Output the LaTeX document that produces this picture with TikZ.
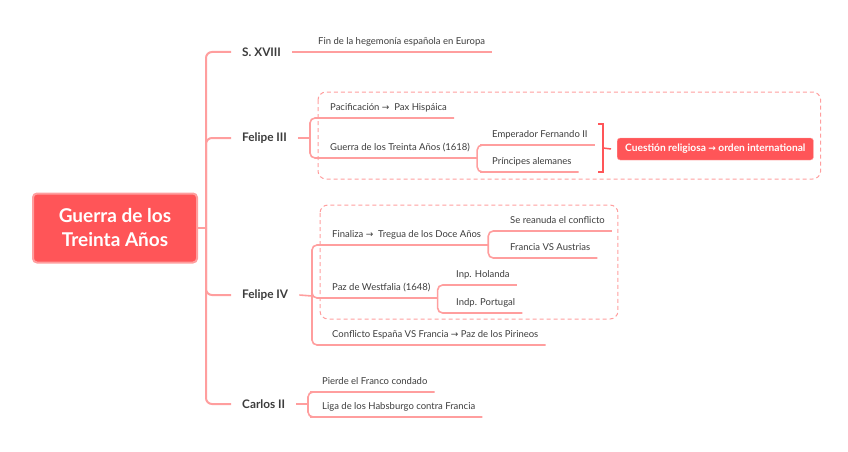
\documentclass[tikz,border=0pt]{standalone}
\usepackage{fontspec}
\setmainfont{Lato}
\newfontfamily\arrowfont{DejaVu Sans}
\usepackage{tikz}
\usetikzlibrary{calc}
\definecolor{mapred}{HTML}{FF5558}
\definecolor{mappink}{HTML}{FF9E9E}
\definecolor{maptext}{HTML}{3C3C3C}
\newcommand{\toarrow}{{\arrowfont\small →}}

\begin{document}
\begin{tikzpicture}[x=1pt, y=-1pt,
    root/.style={draw=mappink, line width=2pt, fill=mapred, rounded corners=4pt,
                 minimum width=164pt, minimum height=69pt, align=center,
                 text=white, font=\fontsize{19}{24}\selectfont\bfseries},
    period/.style={anchor=west, inner xsep=11pt, text=maptext,
                   font=\fontsize{11.8}{13}\selectfont\bfseries},
    leaf/.style={anchor=south west, inner xsep=7pt, inner ysep=0pt,
                 text height=7pt, text depth=7pt, text=maptext,
                 font=\fontsize{9.5}{11}\selectfont},
    result/.style={anchor=west, fill=mapred, draw=mappink, rounded corners=3pt,
                   minimum height=22pt, inner xsep=8pt, text=white,
                   font=\fontsize{10.2}{12}\selectfont\bfseries},
    branch/.style={draw=mappink, line width=2pt, rounded corners=6pt},
    twig/.style={draw=mappink, line width=1.6pt, rounded corners=5pt},
    group/.style={draw=mappink, line width=1pt, dash pattern=on 4pt off 3pt,
                  rounded corners=8pt},
    bracket/.style={draw=mapred, line width=1.5pt}
]
\useasboundingbox (0,0) rectangle (848,452);

% --- root and periods ---
\node[root] (root) at (115,228) {Guerra de los\\Treinta Años};

\node[period] (s18) at (231,52)  {S. XVIII};
\node[period] (f3)  at (231,138) {Felipe III};
\node[period] (f4)  at (231,295) {Felipe IV};
\node[period] (c2)  at (231,404) {Carlos II};

% --- leaves ---
\node[leaf] (fin)  at (311,52)  {Fin de la hegemonía española en Europa};

\node[leaf] (pac)  at (323,118) {Pacificación \toarrow\ \ Pax Hispáica};
\node[leaf] (gta)  at (323,158) {Guerra de los Treinta Años (1618)};
\node[leaf] (emp)  at (485,145) {Emperador Fernando II};
\node[leaf] (pri)  at (485,172) {Príncipes alemanes};
\node[result] (cue) at (617,149) {Cuestión religiosa \toarrow\ orden international};

\node[leaf] (tre)  at (325,245) {Finaliza \toarrow\ \ Tregua de los Doce Años};
\node[leaf] (rea)  at (503,231) {Se reanuda el conflicto};
\node[leaf] (fva)  at (503,258) {Francia VS Austrias};
\node[leaf] (paz)  at (325,298) {Paz de Westfalia (1648)};
\node[leaf] (hol)  at (449,285) {Inp. Holanda};
\node[leaf] (por)  at (449,313) {Indp. Portugal};
\node[leaf] (con)  at (325,345) {Conflicto España VS Francia \toarrow\ Paz de los Pirineos};

\node[leaf] (pie)  at (315,392) {Pierde el Franco condado};
\node[leaf] (liga) at (315,417) {Liga de los Habsburgo contra Francia};

% --- groups ---
\draw[group] (318,92) rectangle ([xshift=7pt]cue.east |- 0,179);
\draw[group] (320,205) rectangle ([xshift=6pt]rea.south east |- 0,319);

% --- trunk ---
\draw[branch] (root.east) -- ++(8,0) coordinate (trunk);
\draw[branch] (trunk) |- (s18.west);
\draw[branch] (trunk) |- (f3.west);
\draw[branch] (trunk) |- (f4.west);
\draw[branch] (trunk) |- (c2.west);

% --- S. XVIII ---
\draw[twig] (s18.east) -- (fin.south west) -- (fin.south east);

% --- Felipe III ---
\coordinate (f3b) at (310,138);
\draw[twig] (f3.east) -- (f3b);
\draw[twig] (f3b) |- (pac.south west) -- (pac.south east);
\draw[twig] (f3b) |- (gta.south west) -- (gta.south east);
\draw[twig] (gta.south east) |- (emp.south west) -- (emp.south east);
\draw[twig] (gta.south east) |- (pri.south west) -- (pri.south east);
\draw[bracket] (598,124) -- (603,124) -- (603,172) -- (598,172);
\draw[bracket] (603,148) -- ([xshift=-6pt]cue.west);

% --- Felipe IV ---
\coordinate (f4b) at (312,296);
\draw[twig] (f4.east) -- (f4b);
\draw[twig] (f4b) |- (tre.south west) -- (tre.south east);
\draw[twig] (f4b) |- (paz.south west) -- (paz.south east);
\draw[twig] (f4b) |- (con.south west) -- (con.south east);
\draw[twig] (tre.south east) |- (rea.south west) -- (rea.south east);
\draw[twig] (tre.south east) |- (fva.south west) -- (fva.south east);
\draw[twig] (paz.south east) |- (hol.south west) -- (hol.south east);
\draw[twig] (paz.south east) |- (por.south west) -- (por.south east);

% --- Carlos II ---
\coordinate (c2b) at (308,404);
\draw[twig] (c2.east) -- (c2b);
\draw[twig] (c2b) |- (pie.south west) -- (pie.south east);
\draw[twig] (c2b) |- (liga.south west) -- (liga.south east);

\end{tikzpicture}
\end{document}
